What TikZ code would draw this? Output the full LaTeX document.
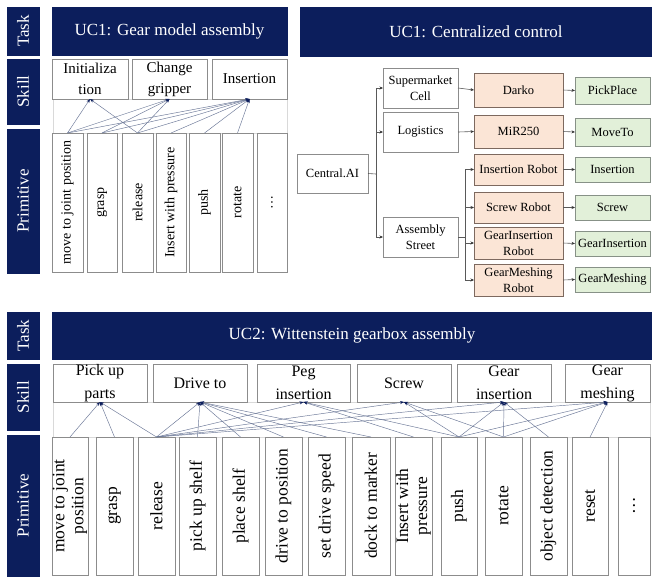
\documentclass[tikz,border=0pt]{standalone}
\usepackage{fontspec}
\setmainfont{Liberation Serif}
\usetikzlibrary{arrows.meta}
\definecolor{navy}{RGB}{12,30,92}
\definecolor{orfill}{RGB}{251,229,214}
\definecolor{ordraw}{RGB}{125,105,95}
\definecolor{grfill}{RGB}{226,240,217}
\definecolor{grdraw}{RGB}{135,145,135}
\definecolor{linecol}{RGB}{105,118,150}
\definecolor{boxdraw}{RGB}{140,140,140}
\newcommand\mkbox[7]{\pgfmathsetmacro\mkW{#5-#3}\pgfmathsetmacro\mkH{#6-#4}\pgfmathsetmacro\mkX{(#3+#5)/2}\pgfmathsetmacro\mkY{(#4+#6)/2}\node[#1,minimum width=\mkW pt,minimum height=\mkH pt] (#2) at (\mkX,\mkY) {#7};}
\newcommand\mkrot[7]{\pgfmathsetmacro\mkW{#5-#3}\pgfmathsetmacro\mkH{#6-#4}\pgfmathsetmacro\mkX{(#3+#5)/2}\pgfmathsetmacro\mkY{(#4+#6)/2}\node[#1,rotate=90,minimum width=\mkH pt,minimum height=\mkW pt] (#2) at (\mkX,\mkY) {#7};}
\begin{document}
\begin{tikzpicture}[x=1pt,y=-1pt,
  base/.style={inner sep=0pt,outer sep=0pt,align=center},
  side/.style={base,fill=navy,draw=navy,text=white,font=\fontsize{17}{20}\selectfont},
  banner/.style={base,fill=navy,draw=navy,text=white,font=\fontsize{17}{20}\selectfont},
  skillA/.style={base,draw=boxdraw,fill=white,line width=0.7pt,font=\fontsize{15}{21}\selectfont},
  primA/.style={base,draw=boxdraw,fill=white,line width=0.7pt,font=\fontsize{14}{16}\selectfont},
  skillB/.style={base,draw=boxdraw,fill=white,line width=0.7pt,font=\fontsize{16}{23}\selectfont},
  primB/.style={base,draw=boxdraw,fill=white,line width=0.7pt,font=\fontsize{17.5}{19}\selectfont},
  cc/.style={base,draw=boxdraw,fill=white,line width=0.7pt,font=\fontsize{12.5}{16}\selectfont},
  robot/.style={cc,fill=orfill,draw=ordraw},
  capab/.style={cc,fill=grfill,draw=grdraw},
  conn/.style={draw=linecol,line width=0.45pt,-{Stealth[length=4pt,width=3pt,color=navy]}},
  flow/.style={draw=black!65,line width=0.6pt,-{Stealth[length=3.5pt,width=3pt,color=black!80]}},
  bgarea/.style={draw=black!15,line width=0.5pt,fill=white}
]
\useasboundingbox (0,0) rectangle (652,576);
% ---------- top left ----------
\mkrot{side}{tlTask}{7}{7}{39}{55}{Task}
\mkrot{side}{tlSkill}{7}{59}{39}{124}{Skill}
\mkrot{side}{tlPrim}{7}{129}{39}{273}{Primitive}
\mkbox{banner}{tlBan}{52}{7}{287}{55}{UC1: Gear model assembly}
\draw[bgarea] (53,99) rectangle (287,133);
\mkbox{skillA}{t1}{52}{59}{128}{99}{Initializa\\tion}
\mkbox{skillA}{t2}{132}{59}{207}{99}{Change\\gripper}
\mkbox{skillA}{t3}{212}{59}{287}{99}{Insertion}
\mkrot{primA}{a1}{52}{133}{83}{272}{move to joint position}
\mkrot{primA}{a2}{87}{133}{117}{272}{grasp}
\mkrot{primA}{a3}{122}{133}{153}{272}{release}
\mkrot{primA}{a4}{156}{133}{186}{272}{Insert with pressure}
\mkrot{primA}{a5}{189}{133}{220}{272}{push}
\mkrot{primA}{a6}{222}{133}{253}{272}{rotate}
\mkrot{primA}{a7}{257}{133}{287}{272}{\dots}
\foreach \p/\s in {a1/t1,a3/t1,a1/t2,a2/t2,a3/t2,a1/t3,a2/t3,a3/t3,a4/t3,a5/t3,a6/t3}
  \draw[conn] (\p.east) -- (\s.south);
% ---------- top right ----------
\mkbox{banner}{trBan}{300}{7}{652}{56}{UC1: Centralized control}
\mkbox{cc}{ca}{297}{154}{368}{193}{Central.AI}
\mkbox{cc}{sc}{383}{68}{458}{108}{Supermarket\\Cell}
\mkbox{cc}{lo}{383}{112}{458}{152}{Logistics}
\mkbox{cc}{as}{383}{217}{458}{257}{Assembly\\Street}
\mkbox{robot}{r1}{474}{73}{563}{107}{Darko}
\mkbox{robot}{r2}{474}{115}{563}{148}{MiR250}
\mkbox{robot}{r3}{474}{154}{563}{185}{Insertion Robot}
\mkbox{robot}{r4}{474}{192}{563}{223}{Screw Robot}
\mkbox{robot}{r5}{474}{227}{563}{259}{GearInsertion\\Robot}
\mkbox{robot}{r6}{474}{264}{563}{296}{GearMeshing\\Robot}
\mkbox{capab}{g1}{575}{77}{650}{104}{PickPlace}
\mkbox{capab}{g2}{575}{118}{650}{146}{MoveTo}
\mkbox{capab}{g3}{575}{157}{650}{182}{Insertion}
\mkbox{capab}{g4}{575}{195}{650}{220}{Screw}
\mkbox{capab}{g5}{575}{231}{650}{256}{GearInsertion}
\mkbox{capab}{g6}{575}{267}{650}{292}{GearMeshing}
\coordinate (trunk) at (376,174);
\draw[draw=black!65,line width=0.6pt] (ca.east) -- (trunk);
\foreach \b in {sc,lo,as} \draw[flow] (trunk) |- (\b.west);
\coordinate (bus) at (465,237);
\draw[draw=black!65,line width=0.6pt] (as.east) -- (bus);
\foreach \b in {r3,r4,r5,r6} \draw[flow] (bus) |- (\b.west);
\draw[flow] (sc.east) -- (r1.west);
\draw[flow] (lo.east) -- (r2.west);
\foreach \i in {1,...,6} \draw[flow] (r\i.east) -- (g\i.west);
% ---------- bottom ----------
\mkrot{side}{bTask}{7}{312}{39}{359}{Task}
\mkrot{side}{bSkill}{7}{364}{39}{430}{Skill}
\mkrot{side}{bPrim}{7}{435}{39}{576}{Primitive}
\mkbox{banner}{bBan}{52}{312}{652}{359}{UC2: Wittenstein gearbox assembly}
\draw[bgarea] (53,402) rectangle (650,437);
\mkbox{skillB}{k1}{53}{364}{147}{402}{Pick up\\parts}
\mkbox{skillB}{k2}{153}{364}{247}{402}{Drive to}
\mkbox{skillB}{k3}{257}{364}{350}{402}{Peg\\insertion}
\mkbox{skillB}{k4}{357}{364}{451}{402}{Screw}
\mkbox{skillB}{k5}{457}{364}{551}{402}{Gear\\insertion}
\mkbox{skillB}{k6}{565}{364}{650}{402}{Gear\\meshing}
\mkrot{primB}{b1}{52}{437}{88}{575}{move to joint\\position}
\mkrot{primB}{b2}{96}{437}{133}{575}{grasp}
\mkrot{primB}{b3}{138}{437}{175}{575}{release}
\mkrot{primB}{b4}{179}{437}{216}{575}{pick up shelf}
\mkrot{primB}{b5}{222}{437}{259}{575}{place shelf}
\mkrot{primB}{b6}{265}{437}{302}{575}{drive to position}
\mkrot{primB}{b7}{308}{437}{345}{575}{set drive speed}
\mkrot{primB}{b8}{352}{437}{390}{575}{dock to marker}
\mkrot{primB}{b9}{395}{437}{432}{575}{Insert with\\pressure}
\mkrot{primB}{b10}{441}{437}{477}{575}{push}
\mkrot{primB}{b11}{485}{437}{522}{575}{rotate}
\mkrot{primB}{b12}{530}{437}{567}{575}{object detection}
\mkrot{primB}{b13}{572}{437}{608}{575}{reset}
\mkrot{primB}{b14}{618}{437}{650}{575}{\dots}
\foreach \p/\s in {b1/k1,b2/k1,b3/k1,
  b3/k2,b4/k2,b5/k2,b6/k2,b7/k2,b8/k2,
  b3/k3,b9/k3,b10/k3,
  b3/k4,b10/k4,b11/k4,
  b3/k5,b10/k5,b11/k5,b12/k5,
  b3/k6,b10/k6,b11/k6,b13/k6}
  \draw[conn] (\p.east) -- (\s.south);
\end{tikzpicture}
\end{document}
